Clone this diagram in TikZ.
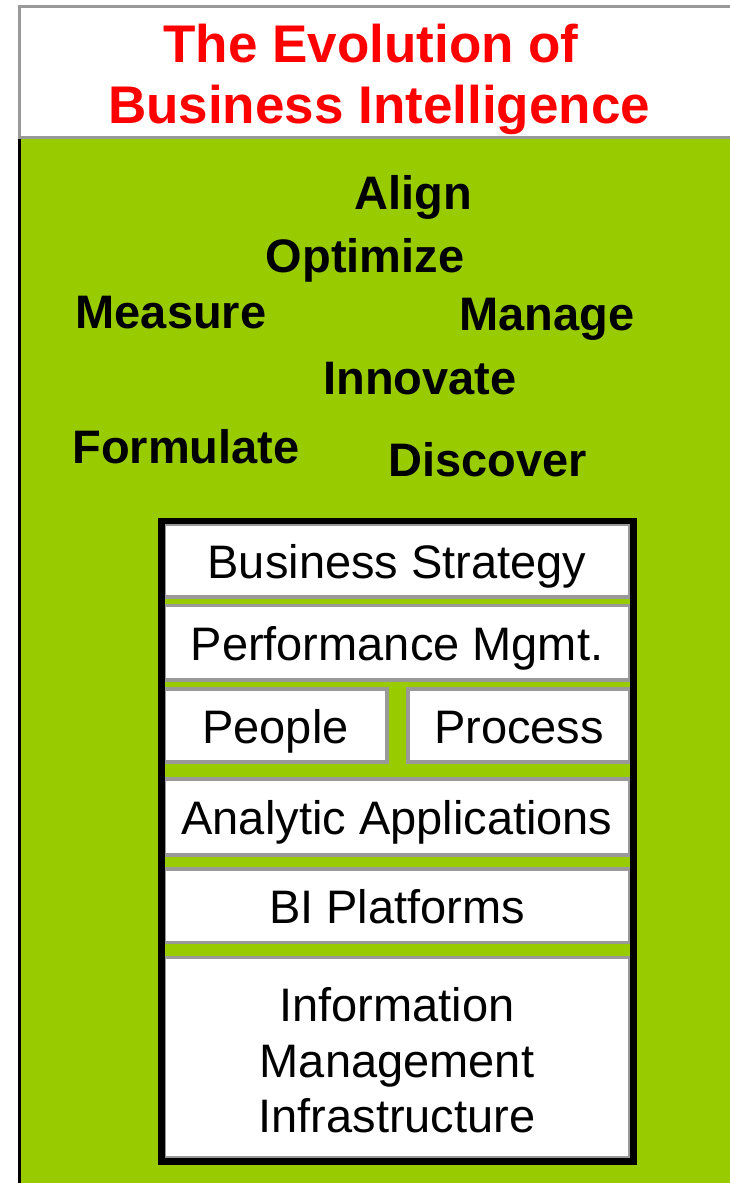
\documentclass[tikz,border=0pt]{standalone}
\usepackage{fontspec}
\setmainfont{Liberation Sans}
\definecolor{bigreen}{HTML}{99CC00}
\definecolor{tiergray}{HTML}{999999}
\definecolor{titlered}{HTML}{FF0000}
\tikzset{
  tiernode/.style={rectangle,draw=tiergray,fill=white,line width=3.5pt,inner sep=0pt,
    minimum height=73pt,text height=35pt,text depth=0pt,font=\fontsize{47}{55.5}\selectfont},
  wordnode/.style={inner sep=0pt,anchor=base,font=\fontsize{47}{55}\selectfont\bfseries},
  titlenode/.style={inner sep=0pt,anchor=base,text=titlered,font=\fontsize{53}{61}\selectfont\bfseries}
}
\begin{document}
\begin{tikzpicture}[x=1pt,y=-1pt]
\useasboundingbox (0,0) rectangle (730,1183);
% background
\fill[bigreen] (19.5,137) rectangle (730,1183);
\draw[tiergray,line width=3pt] (745,6.5) -- (19.5,6.5) -- (19.5,137) -- (745,137);
\draw[line width=3pt] (19.5,138.5) -- (19.5,1190);

% title
\node[titlenode] (titleA) at (371,62) {The Evolution of};
\node[titlenode] (titleB) at (379,123) {Business Intelligence};

% words
\node[wordnode] (align) at (413,209.5) {Align};
\node[wordnode] (optimize) at (365,272) {Optimize};
\node[wordnode] (measure) at (171,328.5) {Measure};
\node[wordnode] (manage) at (547,330) {Manage};
\node[wordnode] (innovate) at (420,394.5) {Innovate};
\node[wordnode] (formulate) at (186,463.5) {Formulate};
\node[wordnode] (discover) at (488,476.5) {Discover};

% stack
\node[tiernode,minimum width=466pt] (strategy) at (397,560.5) {Business Strategy};
\node[tiernode,minimum width=466pt,minimum height=74.5pt] (perf) at (397,642.75) {Performance Mgmt.};
\node[tiernode,minimum width=223pt] (people) at (275.5,725.5) {People};
\node[tiernode,minimum width=222pt] (process) at (519,725.5) {Process};
\node[tiernode,minimum width=466pt,minimum height=76pt] (apps) at (397,817) {Analytic Applications};
\node[tiernode,minimum width=466pt,minimum height=73.5pt] (platforms) at (397,905.75) {BI Platforms};
\node[tiernode,minimum width=466pt,minimum height=200.5pt,text height=,text depth=,align=center]
  (infra) at (397,1057.75) {\rule{0pt}{39pt}Information\\Management\\Infrastructure};
\draw[line width=6.5pt] (161.5,521) rectangle (633.5,1161.5);
\end{tikzpicture}
\end{document}
